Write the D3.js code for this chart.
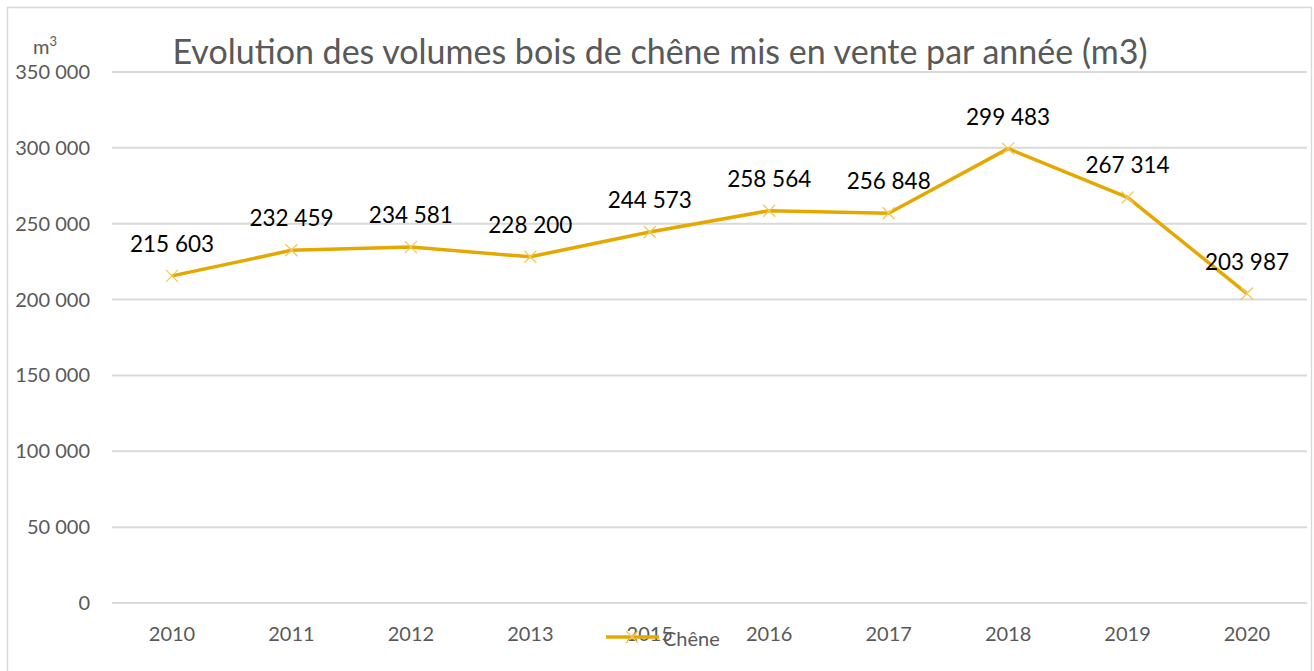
<!DOCTYPE html>
<html>
<head>
<meta charset="utf-8">
<script src="https://cdn.jsdelivr.net/npm/d3@7"></script>
<style>
  body { margin: 0; background: #fff; }
  text { font-family: Lato, "Open Sans", sans-serif; }
</style>
</head>
<body>
<div id="chartContainer"></div>
<script>
// data
var years = ["2010","2011","2012","2013","2015","2016","2017","2018","2019","2020"];
var volumes = [215603, 232459, 234581, 228200, 244573, 258564, 256848, 299483, 267314, 203987];
var yTicks = [0, 50000, 100000, 150000, 200000, 250000, 300000, 350000];
var seriesName = "Chêne";
var title = "Evolution des volumes bois de chêne mis en vente par année (m3)";

var w = 1314, h = 671;
var lineColor = "#E5A800";

var svg = d3.select("#chartContainer")
    .append("svg")
    .attr("width", w)
    .attr("height", h);

// chart border
svg.append("rect")
    .attr("x", 7.5).attr("y", 7.5)
    .attr("width", 1304).attr("height", 680)
    .attr("fill", "none")
    .attr("stroke", "#d9d9d9")
    .attr("stroke-width", 1.5);

var xScale = d3.scaleBand()
    .domain(years)
    .range([112.3, 1306.7]);

var yScale = d3.scaleLinear()
    .domain([0, 350000])
    .range([603, 72]);

var fmt = function(v){
    return d3.format(",")(v).replace(/,/g, " ");
};

//grid lines
svg.append("g")
    .selectAll("line")
    .data(yTicks)
    .join("line")
    .attr("x1", 112).attr("x2", 1307)
    .attr("y1", d => yScale(d)).attr("y2", d => yScale(d))
    .attr("stroke", "#d9d9d9")
    .attr("stroke-width", 2);

//y axis labels
svg.append("g")
    .selectAll("text")
    .data(yTicks)
    .join("text")
    .attr("x", 90)
    .attr("y", d => yScale(d))
    .attr("dy", "0.35em")
    .attr("text-anchor", "end")
    .attr("fill", "#595959")
    .style("font-size", "20px")
    .text(d => fmt(d));

//x axis labels
svg.append("g")
    .selectAll("text")
    .data(years)
    .join("text")
    .attr("x", d => xScale(d) + xScale.bandwidth() / 2)
    .attr("y", 641)
    .attr("text-anchor", "middle")
    .attr("fill", "#595959")
    .style("font-size", "20px")
    .text(d => d);

// unit label
var unit = svg.append("text")
    .attr("x", 33).attr("y", 54)
    .attr("fill", "#595959")
    .style("font-size", "20px");
unit.append("tspan").text("m");
unit.append("tspan")
    .attr("dy", -8)
    .style("font-size", "13px")
    .text("3");

// title
svg.append("text")
    .attr("x", 660).attr("y", 64)
    .attr("text-anchor", "middle")
    .attr("fill", "#595959")
    .style("font-size", "34px")
    .text(title);

var dataset = years.map(function(y, i){ return {year: y, value: volumes[i]}; });
var cx = d => xScale(d.year) + xScale.bandwidth() / 2;

// the line
svg.append("path")
    .datum(dataset)
    .attr("fill", "none")
    .attr("stroke", lineColor)
    .attr("stroke-width", 3.5)
    .attr("stroke-linejoin", "round")
    .attr("d", d3.line().x(cx).y(d => yScale(d.value)));

// x markers
function cross(g, x, y, s){
    g.append("path")
        .attr("d", `M${x - s},${y - s}L${x + s},${y + s}M${x - s},${y + s}L${x + s},${y - s}`)
        .attr("stroke", "#F2C85A")
        .attr("stroke-width", 1.3)
        .attr("fill", "none");
}
var markers = svg.append("g");
dataset.forEach(function(d){
    cross(markers, cx(d), yScale(d.value), 6);
});

// data labels
svg.append("g")
    .selectAll("text")
    .data(dataset)
    .join("text")
    .attr("x", cx)
    .attr("y", d => yScale(d.value) - 24)
    .attr("text-anchor", "middle")
    .attr("fill", "#000")
    .style("font-size", "22.5px")
    .text(d => fmt(d.value));

// legend
var legend = svg.append("g");
legend.append("line")
    .attr("x1", 606).attr("x2", 659)
    .attr("y1", 637).attr("y2", 637)
    .attr("stroke", lineColor)
    .attr("stroke-width", 3.5);
cross(legend, 632, 637, 6);
legend.append("text")
    .attr("x", 663).attr("y", 646)
    .attr("fill", "#595959")
    .style("font-size", "20px")
    .text(seriesName);
</script>
</body>
</html>
